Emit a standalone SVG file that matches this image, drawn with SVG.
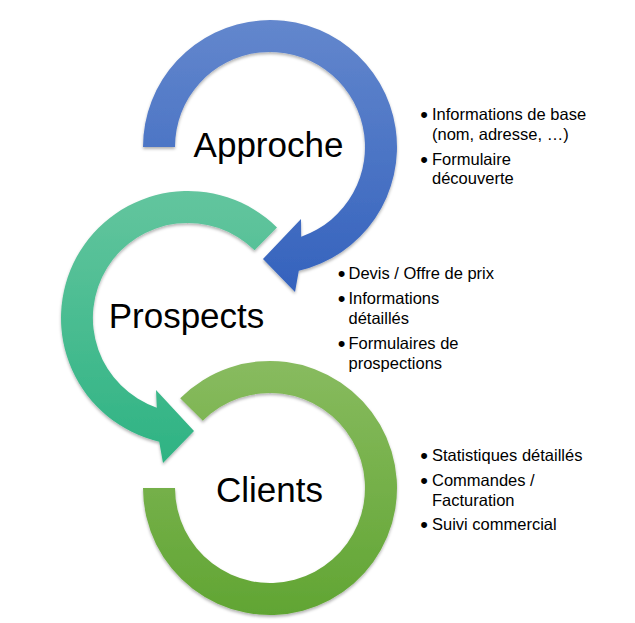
<svg xmlns="http://www.w3.org/2000/svg" width="635" height="623" viewBox="0 0 635 623">
  <defs>
    <linearGradient id="gBlue" x1="0" y1="0" x2="0" y2="1">
      <stop offset="0" stop-color="#6387cd"/>
      <stop offset="1" stop-color="#3462bd"/>
    </linearGradient>
    <linearGradient id="gTeal" x1="0" y1="0" x2="0" y2="1">
      <stop offset="0" stop-color="#63c59e"/>
      <stop offset="1" stop-color="#2eb383"/>
    </linearGradient>
    <linearGradient id="gGreen" x1="0" y1="0" x2="0" y2="1">
      <stop offset="0" stop-color="#88bb5f"/>
      <stop offset="1" stop-color="#61a533"/>
    </linearGradient>
    <filter id="shadow" x="-10%" y="-10%" width="120%" height="125%">
      <feDropShadow dx="0" dy="2" stdDeviation="1.5" flood-color="#000" flood-opacity="0.3"/>
    </filter>
  </defs>
  <style>
    .ring { filter: url(#shadow); }
    .title { font-family: "Liberation Sans", Arial, sans-serif; font-size: 35px; fill: #000; text-anchor: middle; }
    .item { font-family: "Liberation Sans", Arial, sans-serif; font-size: 16.5px; fill: #000; }
    .bul { font-family: "Liberation Sans", Arial, sans-serif; font-size: 22px; fill: #000; text-anchor: middle; }
  </style>
  <rect width="635" height="623" fill="#fff"/>

  <g id="clients">
    <path class="ring" fill="url(#gGreen)" d="M180.2,398.2 A127,127 0 1 1 143,488 L175,488 A95,95 0 1 0 202.8,420.8 Z"/>
    <text class="title" x="269.5" y="502">Clients</text>
  </g>

  <g id="prospects">
    <path class="ring" fill="url(#gTeal)" d="M277,227.4 A127,127 0 1 0 159.2,441.7 L163,463 L194,431 L156,390 L156.8,407.7 A95,95 0 1 1 254.6,250.3 Z"/>
    <text class="title" x="186.5" y="328">Prospects</text>
  </g>

  <g id="approche">
    <path class="ring" fill="url(#gBlue)" d="M143,147 A127,127 0 1 1 298.8,270.7 L295,292 L263,259 L301,219 L301.2,236.7 A95,95 0 1 0 175,147 Z"/>
    <text class="title" x="268.5" y="157">Approche</text>
  </g>

  <g id="approche-details">
    <text class="bul" x="424" y="122">•</text>
    <text class="item" x="432" y="120">Informations de base</text>
    <text class="item" x="432" y="140">(nom, adresse, …)</text>
    <text class="bul" x="424" y="166.5">•</text>
    <text class="item" x="432" y="164.5">Formulaire</text>
    <text class="item" x="432" y="184">découverte</text>
  </g>

  <g id="prospects-details">
    <text class="bul" x="341.5" y="281">•</text>
    <text class="item" x="348.5" y="279">Devis / Offre de prix</text>
    <text class="bul" x="341.5" y="306">•</text>
    <text class="item" x="348.5" y="304">Informations</text>
    <text class="item" x="348.5" y="324">détaillés</text>
    <text class="bul" x="341.5" y="350.5">•</text>
    <text class="item" x="348.5" y="348.5">Formulaires de</text>
    <text class="item" x="348.5" y="368.5">prospections</text>
  </g>

  <g id="clients-details">
    <text class="bul" x="424" y="463">•</text>
    <text class="item" x="432" y="461">Statistiques détaillés</text>
    <text class="bul" x="424" y="487.5">•</text>
    <text class="item" x="432" y="485.5">Commandes /</text>
    <text class="item" x="432" y="505.5">Facturation</text>
    <text class="bul" x="424" y="532">•</text>
    <text class="item" x="432" y="530">Suivi commercial</text>
  </g>

  <g id="connectors"/>
</svg>
